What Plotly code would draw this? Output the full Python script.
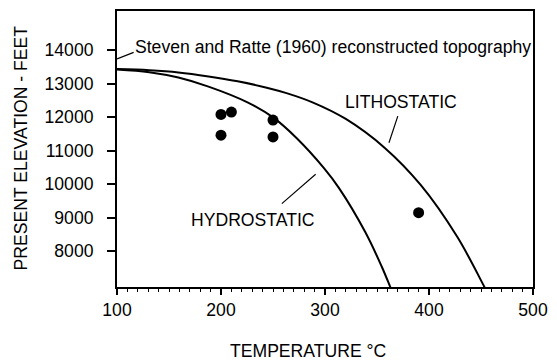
import plotly.graph_objects as go

# Boiling-point curves: temperature (°C) vs present elevation (feet)
hydro_temp = [100, 131, 159, 188, 225.5, 250.7, 272.6, 299, 313.5, 338.7, 354.4, 362.3, 366]
hydro_elev = [13420, 13340, 13180, 12910, 12440, 11975, 11375, 10477, 9882, 8572, 7552, 6967, 6680]

litho_temp = [100, 131, 159, 188, 216, 244, 263, 288, 320, 357.5, 392, 427, 452, 460]
litho_elev = [13430, 13396, 13332, 13213, 13067, 12877, 12715, 12440, 11944, 11081, 9977, 8437, 7012, 6516]

# Fluid-inclusion samples
sample_temp = [200, 210, 200, 250, 250, 390]
sample_elev = [12080, 12150, 11460, 11910, 11410, 9150]

x_ticks = [100, 200, 300, 400, 500]
y_ticks = [8000, 9000, 10000, 11000, 12000, 13000, 14000]

FONT = "Liberation Sans, Arial, Helvetica, sans-serif"
FS = 17.6

fig = go.Figure()
for tx, ey in ((hydro_temp, hydro_elev), (litho_temp, litho_elev)):
    fig.add_trace(go.Scatter(x=tx, y=ey, mode="lines",
                             line=dict(color="black", width=2, shape="spline", smoothing=1.0),
                             hoverinfo="skip"))
fig.add_trace(go.Scatter(x=sample_temp, y=sample_elev, mode="markers",
                         marker=dict(color="black", size=11, line=dict(width=0))))

# Labels with leader lines
labels = [
    dict(text="Steven and Ratte (1960) reconstructed topography", x=115.5, y=14100, xanchor="left"),
    dict(text="LITHOSTATIC", x=373.5, y=12440, xanchor="center"),
    dict(text="HYDROSTATIC", x=231, y=8917, xanchor="center"),
]
for lab in labels:
    fig.add_annotation(x=lab["x"], y=lab["y"], text=lab["text"], showarrow=False,
                       xanchor=lab["xanchor"], yanchor="middle",
                       font=dict(family=FONT, size=FS, color="black"))

leaders = [
    (100, 13735, 116, 13930),
    (370, 12030, 361.5, 11235),
    (258.5, 9420, 291, 10295),
]
for x0, y0, x1, y1 in leaders:
    fig.add_shape(type="line", x0=x0, y0=y0, x1=x1, y1=y1,
                  line=dict(color="black", width=1.2))

# Axis titles
fig.add_annotation(xref="paper", yref="paper", x=-0.232, y=0.504, text="PRESENT ELEVATION - FEET",
                   textangle=-90, showarrow=False, xanchor="center", yanchor="middle",
                   font=dict(family=FONT, size=FS, color="black"))
fig.add_annotation(xref="paper", yref="paper", x=0.4605, y=-0.2325, text="TEMPERATURE °C",
                   showarrow=False, xanchor="center", yanchor="middle",
                   font=dict(family=FONT, size=FS, color="black"))

fig.update_layout(
    width=557, height=363,
    margin=dict(l=117, r=16, t=9, b=76),
    paper_bgcolor="white", plot_bgcolor="white",
    showlegend=False,
    font=dict(family=FONT, size=FS, color="black"),
)
fig.update_xaxes(range=[100, 500], tickvals=x_ticks, ticktext=[str(v) for v in x_ticks],
                 ticks="outside", ticklen=6, tickwidth=1.5,
                 tickcolor="black", showline=True, linecolor="black", linewidth=2, mirror=True,
                 showgrid=False, zeroline=False,
                 minor=dict(dtick=10, ticks="outside", ticklen=3, tickwidth=1.2, tickcolor="black", showgrid=False),
                 tickfont=dict(family=FONT, size=FS))
fig.update_yaxes(range=[6934, 15163], tickvals=y_ticks, ticktext=[str(v) for v in y_ticks],
                 ticks="outside", ticklen=8, tickwidth=1.5,
                 tickcolor="black", showline=True, linecolor="black", linewidth=2, mirror=True,
                 showgrid=False, zeroline=False, ticklabelstandoff=10,
                 tickfont=dict(family=FONT, size=FS))

fig.write_html("out.html")
